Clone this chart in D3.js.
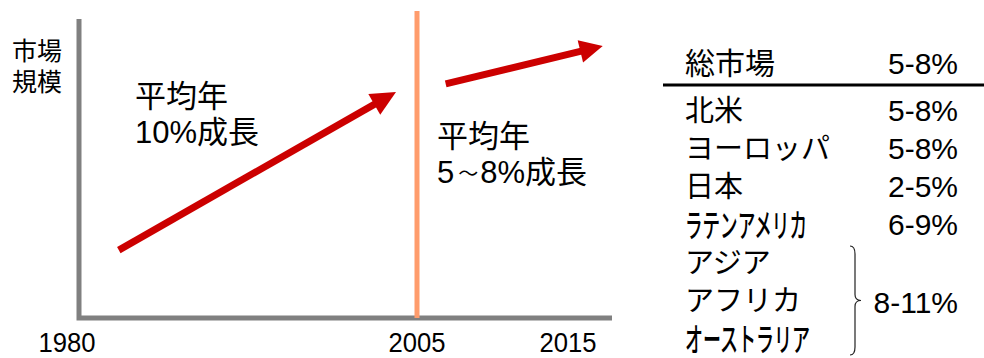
<!DOCTYPE html>
<html><head><meta charset="utf-8">
<script src="https://cdn.jsdelivr.net/npm/d3@7"></script>
<style>
html,body{margin:0;padding:0;background:#fff;}
svg{display:block;}
text{font-family:"Liberation Sans","Noto Sans CJK JP",sans-serif;fill:#000;}
</style></head><body>
<svg id="chart" width="984" height="358"></svg>
<script>
// ---- data ----
const tickYears = [1980, 2005, 2015];
const tickLabels = ["1980", "2005", "2015"];
const dividerYear = 2005;
// growth arrows: [year, market size index]
const arrowPast = [[1983.7, 22.7], [2003.5, 75.6]];
const arrowFuture = [[2006.9, 78.3], [2017.3, 91.0]];
const yLabel = ["市場", "規模"];
const pastNote = ["平均年", "10%成長"];
const futureNoteTop = "平均年";
const futureNoteParts = ["5", "～", "8%成長"];
const headerRegion = "総市場";
const headerRate = "5-8%";
const regions = ["北米", "ヨーロッパ", "日本", "ラテンアメリカ", "アジア", "アフリカ", "オーストラリア"];
const rates = ["5-8%", "5-8%", "2-5%", "6-9%", null, null, null];
const groupedRate = "8-11%";
const groupRows = [4, 6];

// ---- layout ----
const svg = d3.select("#chart");
const frame = {left: 79, right: 612, top: 19, bottom: 318};
const x = d3.scaleLinear().domain([1980, 2005, 2015]).range([67, 417, 568]);
const y = d3.scaleLinear().domain([0, 100]).range([frame.bottom, frame.top]);

// axes (L-shaped frame)
svg.append("path")
  .attr("d", `M${frame.left},${frame.top} V${frame.bottom} H${frame.right}`)
  .attr("fill", "none").attr("stroke", "#808080").attr("stroke-width", 5);

// divider
svg.append("line")
  .attr("x1", x(dividerYear)).attr("x2", x(dividerYear))
  .attr("y1", 11).attr("y2", frame.bottom)
  .attr("stroke", "#ff9c6c").attr("stroke-width", 5);

// tick labels
svg.selectAll("text.tick").data(tickYears).join("text")
  .attr("class", "tick")
  .attr("x", d => x(d)).attr("y", 352)
  .attr("text-anchor", "middle")
  .attr("font-size", 28)
  .attr("textLength", 57).attr("lengthAdjust", "spacingAndGlyphs")
  .text((d, i) => tickLabels[i]);

// arrows
function drawArrow(pts, headLen, headHalf, width) {
  const [x0, y0] = [x(pts[0][0]), y(pts[0][1])];
  const [x1, y1] = [x(pts[1][0]), y(pts[1][1])];
  const dx = x1 - x0, dy = y1 - y0, L = Math.hypot(dx, dy);
  const ux = dx / L, uy = dy / L, nx = -uy, ny = ux;
  const bx = x1 - ux * headLen, by = y1 - uy * headLen;
  svg.append("line")
    .attr("x1", x0).attr("y1", y0).attr("x2", bx + ux * 2).attr("y2", by + uy * 2)
    .attr("stroke", "#cc0000").attr("stroke-width", width);
  svg.append("path")
    .attr("d", `M${x1},${y1} L${bx + nx * headHalf},${by + ny * headHalf} L${bx - nx * headHalf},${by - ny * headHalf} Z`)
    .attr("fill", "#cc0000");
}
drawArrow(arrowPast, 25, 12, 7);
drawArrow(arrowFuture, 23, 11.5, 7);

// y label
svg.selectAll("text.ylab").data(yLabel).join("text")
  .attr("class", "ylab")
  .attr("x", 12).attr("y", (d, i) => 60 + i * 31)
  .attr("font-size", 25).text(d => d);

// notes
svg.selectAll("text.past").data(pastNote).join("text")
  .attr("class", "past")
  .attr("x", 135).attr("y", (d, i) => 107 + i * 36)
  .attr("font-size", 31).text(d => d);
svg.append("text").attr("x", 437).attr("y", 147).attr("font-size", 31).text(futureNoteTop);
const fn = svg.append("text").attr("x", 437).attr("y", 183).attr("font-size", 31);
fn.append("tspan").text(futureNoteParts[0]);
fn.append("tspan").attr("dx", 4).attr("font-size", 20).attr("dy", -2).text(futureNoteParts[1]);
fn.append("tspan").attr("dx", 2).attr("dy", 2).text(futureNoteParts[2]);

// table
const colL = 685, colR = 958;
svg.append("text").attr("x", colL).attr("y", 74).attr("font-size", 30).text(headerRegion);
svg.append("text").attr("x", colR).attr("y", 74).attr("font-size", 30)
  .attr("text-anchor", "end").text(headerRate);
svg.append("line").attr("x1", 663).attr("x2", 984).attr("y1", 85).attr("y2", 85)
  .attr("stroke", "#000").attr("stroke-width", 3);

const row = d3.scaleLinear().domain([0, 1]).range([121, 159]);
const condensed = {"ラテンアメリカ": 122, "オーストラリア": 125};
svg.selectAll("text.region").data(regions).join("text")
  .attr("class", "region")
  .attr("font-size", d => condensed[d] ? 32 : 29)
  .attr("font-weight", d => condensed[d] ? 500 : 400)
  .text(d => d)
  .each(function(d, i) {
    const t = d3.select(this);
    const yy = row(i) + (condensed[d] ? 2 : 0);
    if (condensed[d]) {
      const w = this.getComputedTextLength();
      t.attr("transform", `translate(${colL},${yy}) scale(${condensed[d] / w},1)`);
    } else {
      t.attr("x", colL).attr("y", yy);
    }
  });
svg.selectAll("text.rate").data(rates.map((r, i) => [r, i]).filter(d => d[0])).join("text")
  .attr("class", "rate")
  .attr("x", colR).attr("y", d => row(d[1]))
  .attr("text-anchor", "end").attr("font-size", 30)
  .text(d => d[0]);

// brace
const bTop = row(groupRows[0]) - 27, bBot = row(groupRows[1]) + 6;
const bMid = (bTop + bBot) / 2;
const bx0 = 850, bx1 = 855, bx2 = 861;
svg.append("path")
  .attr("d", `M${bx0},${bTop} Q${bx1},${bTop} ${bx1},${bTop + 8} V${bMid - 6} Q${bx1},${bMid} ${bx2},${bMid} Q${bx1},${bMid} ${bx1},${bMid + 6} V${bBot - 8} Q${bx1},${bBot} ${bx0},${bBot}`)
  .attr("fill", "none").attr("stroke", "#222").attr("stroke-width", 1.2);
svg.append("text").attr("x", colR).attr("y", row((groupRows[0] + groupRows[1]) / 2) + 2)
  .attr("text-anchor", "end").attr("font-size", 30).text(groupedRate);
</script>
</body></html>
